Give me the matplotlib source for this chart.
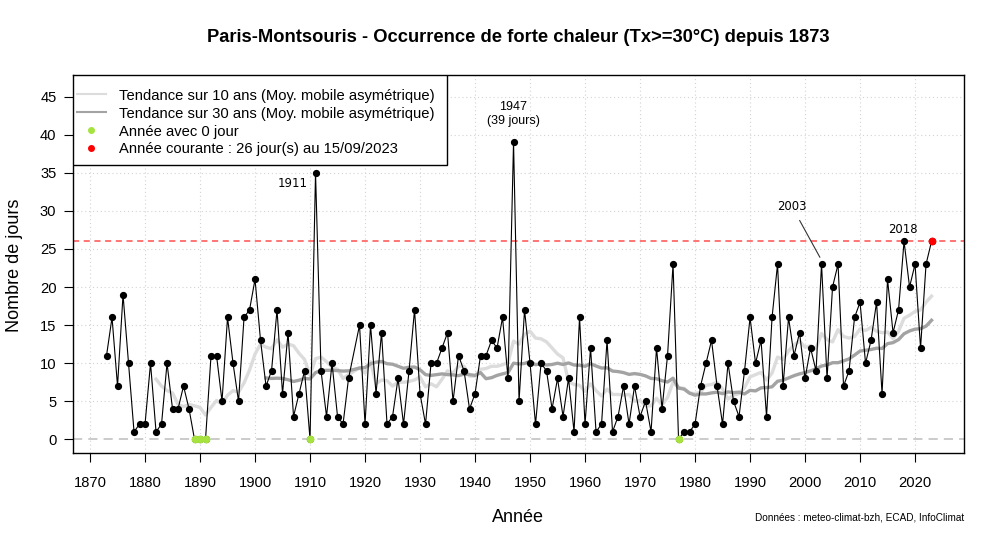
import numpy as np
import pandas as pd
import matplotlib.pyplot as plt
from matplotlib.lines import Line2D
from matplotlib.patches import Rectangle

plt.rcParams['font.family'] = ['Liberation Sans', 'DejaVu Sans']

# Donnees : nombre de jours Tx>=30C a Paris-Montsouris (1918 manquant)
annees = np.arange(1873, 2024)
jours = [11, 16, 7, 19, 10, 1, 2,                      # 1873-1879
         2, 10, 1, 2, 10, 4, 4, 7, 4, 0,               # 1880-1889
         0, 0, 11, 11, 5, 16, 10, 5, 16, 17,           # 1890-1899
         21, 13, 7, 9, 17, 6, 14, 3, 6, 9,             # 1900-1909
         0, 35, 9, 3, 10, 3, 2, 8, np.nan, 15,         # 1910-1919
         2, 15, 6, 14, 2, 3, 8, 2, 9, 17,              # 1920-1929
         6, 2, 10, 10, 12, 14, 5, 11, 9, 4,            # 1930-1939
         6, 11, 11, 13, 12, 16, 8, 39, 5, 17,          # 1940-1949
         10, 2, 10, 9, 4, 8, 3, 8, 1, 16,              # 1950-1959
         2, 12, 1, 2, 13, 1, 3, 7, 2, 7,               # 1960-1969
         3, 5, 1, 12, 4, 11, 23, 0, 1, 1,              # 1970-1979
         2, 7, 10, 13, 7, 2, 10, 5, 3, 9,              # 1980-1989
         16, 10, 13, 3, 16, 23, 7, 16, 11, 14,         # 1990-1999
         8, 12, 9, 23, 8, 20, 23, 7, 9, 16,            # 2000-2009
         18, 10, 13, 18, 6, 21, 14, 17, 26, 20,        # 2010-2019
         23, 12, 23, 26]                               # 2020-2023
annee_courante = 2023
seuil_courant = 26
date_courante = "15/09/2023"

serie = pd.Series(jours, index=annees).dropna()
tendance10 = serie.rolling(10).mean()   # moyenne mobile asymetrique 10 ans
tendance30 = serie.rolling(30).mean()   # moyenne mobile asymetrique 30 ans
zeros = serie[serie == 0]

col10 = '#dcdcdc'
col30 = '#a3a3a3'
vert = '#a6e33f'

fig = plt.figure(figsize=(10, 5.43), dpi=100)
ax = fig.add_axes([0.0727, 0.165, 0.8913, 0.697])

# grille
for xv in range(1870, 2030, 10):
    ax.axvline(xv, color='#d3d3d3', lw=0.8, ls=(0, (1, 2.5)), zorder=0)
for yv in range(5, 50, 5):
    ax.axhline(yv, color='#d3d3d3', lw=0.8, ls=(0, (1, 2.5)), zorder=0)
ax.axhline(0, color='#bdbdbd', lw=1.1, ls=(0, (6, 4)), zorder=1)
ax.axhline(seuil_courant, color='#ff5050', lw=1.1, ls=(0, (4, 3)), zorder=1)

# tendances
ax.plot(tendance10.index, tendance10.values, color=col10, lw=2.4, zorder=2)
ax.plot(tendance30.index, tendance30.values, color=col30, lw=2.4, zorder=2)

# serie annuelle
ax.plot(serie.index, serie.values, color='black', lw=0.8, marker='o', ms=4.2, zorder=3)
ax.plot(zeros.index, zeros.values, ls='none', marker='o', ms=4.6, color=vert, zorder=4)
ax.plot([annee_courante], [serie[annee_courante]], ls='none', marker='o', ms=4.6,
        color='red', zorder=4)

# annotations
ax.text(1909.6, 33.6, "1911", ha='right', va='center', fontsize=8.4, family='DejaVu Sans')
ax.text(1946.9, 42.7, "1947\n(39 jours)", ha='center', va='center', fontsize=9,
        linespacing=1.2)
ax.annotate("2003", xy=(2002.7, 23.9), xytext=(1997.6, 30.6), ha='center', va='center',
            fontsize=8.4, family='DejaVu Sans',
            arrowprops=dict(arrowstyle='-', color='#333333', lw=0.8, shrinkA=4, shrinkB=0))
ax.text(2017.8, 27.6, "2018", ha='center', va='center', fontsize=8.4, family='DejaVu Sans')

ax.set_xlim(1866.85, 2028.9)
ax.set_ylim(-1.84, 47.84)
ax.set_xticks(range(1870, 2030, 10))
ax.set_yticks(range(0, 50, 5))
ax.tick_params(direction='out', length=6.7, width=0.8, labelsize=10.6, top=False, right=False)
ax.tick_params(axis='x', pad=9.5)
ax.tick_params(axis='y', pad=5)
for s in ax.spines.values():
    s.set_linewidth(1.0)

# legende (cadre dessine a part, comme dans R)
cadre = Rectangle((0, 0.762), 0.4201, 0.238, transform=ax.transAxes, facecolor='white',
                  edgecolor='black', lw=1.0, zorder=5)
ax.add_patch(cadre)
poignees = [Line2D([], [], color=col10, lw=1.5),
            Line2D([], [], color=col30, lw=1.5),
            Line2D([], [], ls='none', marker='o', ms=4, color=vert),
            Line2D([], [], ls='none', marker='o', ms=4, color='red')]
textes = ["Tendance sur 10 ans (Moy. mobile asymétrique)",
          "Tendance sur 30 ans (Moy. mobile asymétrique)",
          "Année avec 0 jour",
          "Année courante : %d jour(s) au %s" % (seuil_courant, date_courante)]
leg = ax.legend(poignees, textes, loc='upper left', bbox_to_anchor=(0.0048, 0.964),
                borderaxespad=0, borderpad=0, fontsize=10.6, frameon=False,
                handlelength=1.97, handletextpad=0.88, labelspacing=0.27)
leg.set_zorder(6)

fig.text(0.518, 1 - 38 / 543, "Paris-Montsouris - Occurrence de forte chaleur (Tx>=30°C) depuis 1873",
         ha='center', va='center', fontsize=13.2, fontweight='bold')
fig.text(0.518, 1 - 517 / 543, "Année", ha='center', va='center', fontsize=13)
fig.text(0.015, 1 - 265 / 543, "Nombre de jours", ha='center', va='center', fontsize=13,
         rotation=90)
fig.text(0.964, 1 - 517 / 543, "Données : meteo-climat-bzh, ECAD, InfoClimat",
         ha='right', va='center', fontsize=7.2)

fig.savefig('out.png', dpi=100)
